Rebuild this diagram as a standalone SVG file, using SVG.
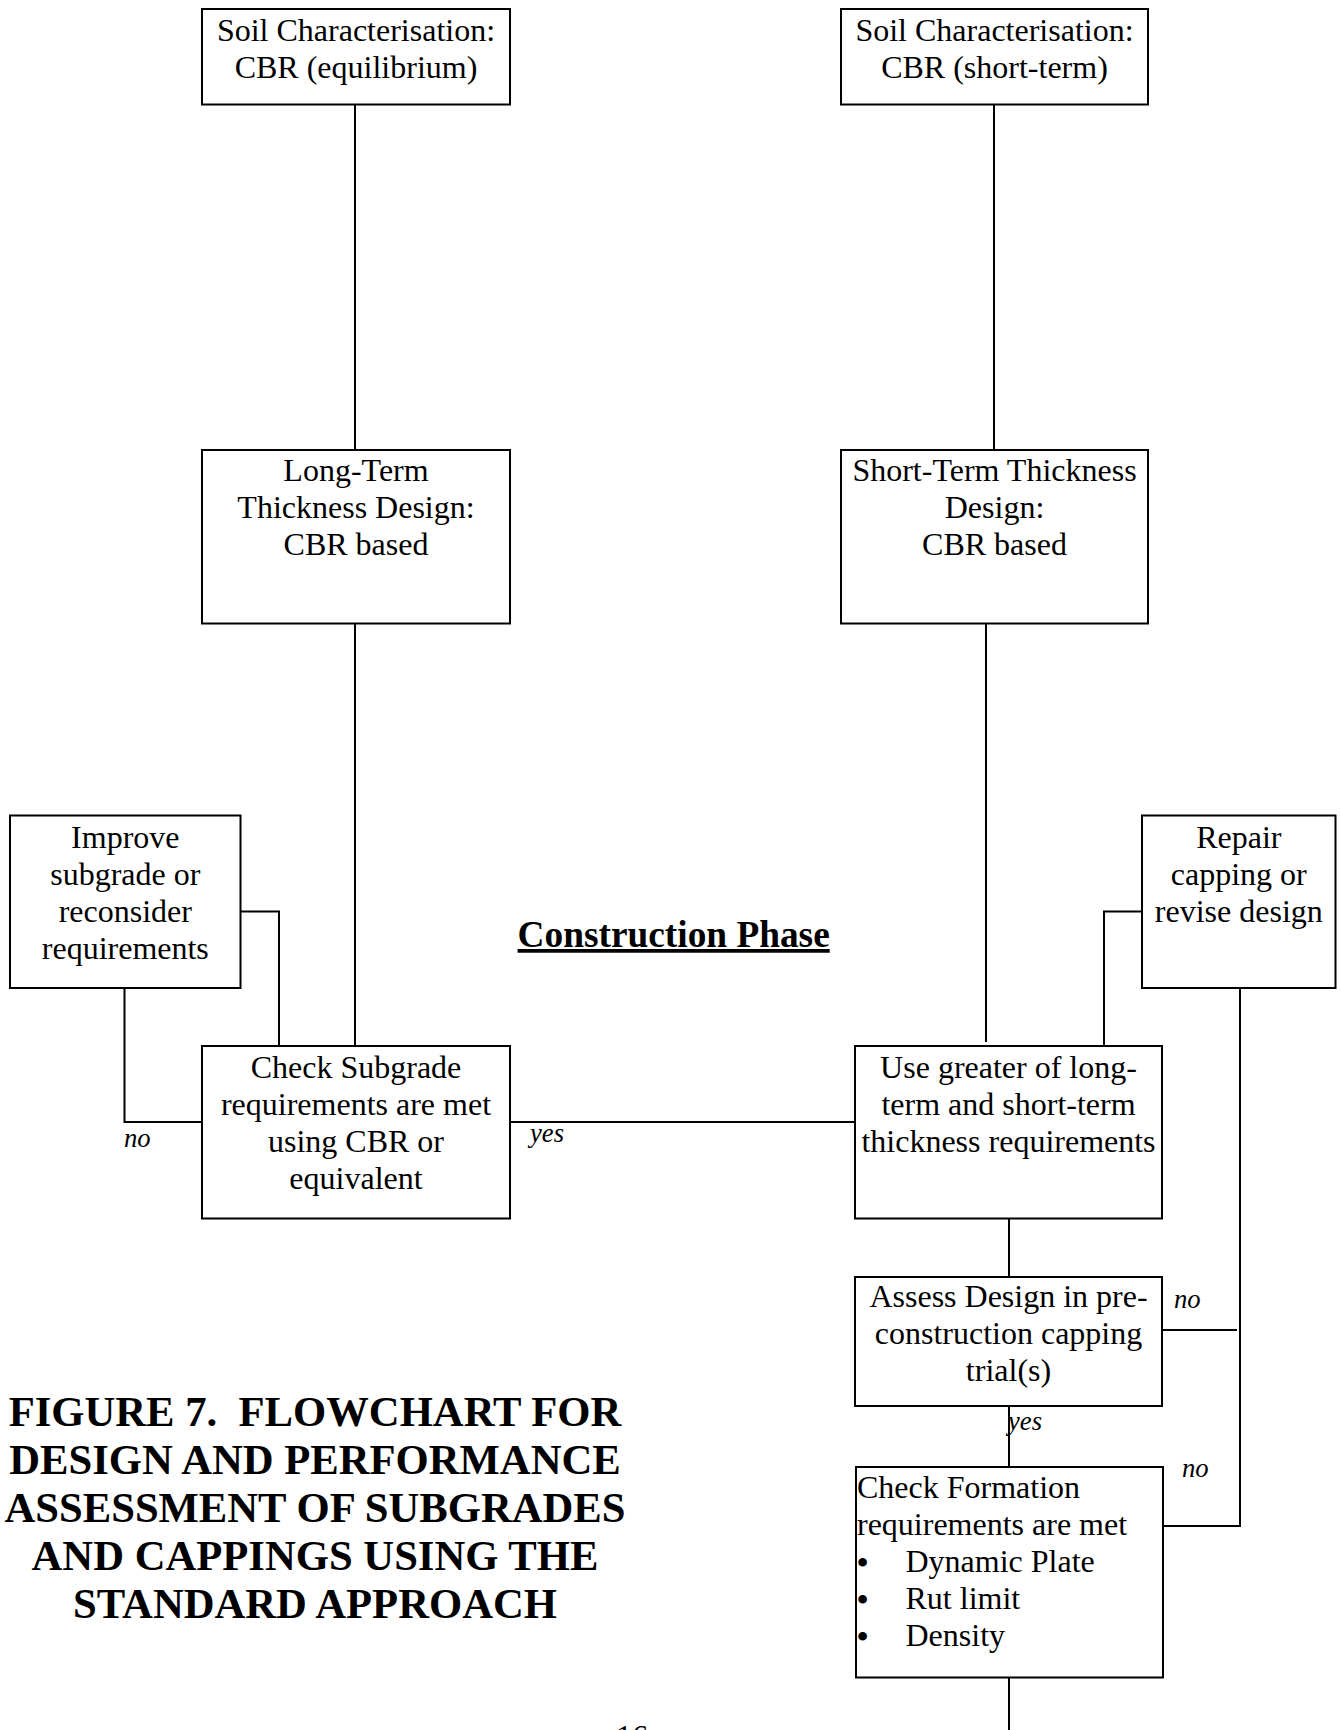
<svg xmlns="http://www.w3.org/2000/svg" width="1341" height="1730" viewBox="0 0 1341 1730">
<style>
.box{fill:#fff;stroke:#000;stroke-width:2}
.ln{fill:none;stroke:#000;stroke-width:2}
text{font-family:"Liberation Serif","Times New Roman",serif;fill:#000}
.t{font-size:32px;text-anchor:middle}
.tl{font-size:32px;text-anchor:start}
.bul{font-size:32px;text-anchor:middle;font-weight:bold}
.lab{font-size:26.67px;font-style:italic}
.ttl{font-size:42.67px;font-weight:bold;text-anchor:middle;white-space:pre}
.ph{font-size:37.33px;font-weight:bold;text-decoration:underline}
</style>
<rect x="0" y="0" width="1341" height="1730" fill="#fff"/>
<g id="connectors">
<path class="ln" d="M355,105 V450"/>
<path class="ln" d="M994,105 V450"/>
<path class="ln" d="M355,624 V1046"/>
<path class="ln" d="M986,624 V1042"/>
<path class="ln" d="M241,911.5 H279 V1046"/>
<path class="ln" d="M124.5,988 V1122 H202"/>
<path class="ln" d="M510,1122 H855"/>
<path class="ln" d="M1142,911.5 H1104 V1046"/>
<path class="ln" d="M1240,988 V1526 H1163"/>
<path class="ln" d="M1009,1218.5 V1277"/>
<path class="ln" d="M1160,1330 H1237"/>
<path class="ln" d="M1009,1406 V1470"/>
<path class="ln" d="M1009,1677.5 V1730"/>
</g>
<g id="soil-equilibrium">
<rect class="box" x="202" y="9" width="308" height="95.5"/>
<text class="t" x="356" y="41">Soil Characterisation:</text>
<text class="t" x="356" y="77.5">CBR (equilibrium)</text>
</g>
<g id="soil-short-term">
<rect class="box" x="841" y="9" width="307" height="95.5"/>
<text class="t" x="994.5" y="41">Soil Characterisation:</text>
<text class="t" x="994.5" y="77.5">CBR (short-term)</text>
</g>
<g id="long-term-design">
<rect class="box" x="202" y="450" width="308" height="173.5"/>
<text class="t" x="356" y="481">Long-Term</text>
<text class="t" x="356" y="518">Thickness Design:</text>
<text class="t" x="356" y="555">CBR based</text>
</g>
<g id="short-term-design">
<rect class="box" x="841" y="450" width="307" height="173.5"/>
<text class="t" x="994.5" y="481">Short-Term Thickness</text>
<text class="t" x="994.5" y="518">Design:</text>
<text class="t" x="994.5" y="555">CBR based</text>
</g>
<g id="improve-subgrade">
<rect class="box" x="10" y="815.5" width="230.5" height="172.5"/>
<text class="t" x="125.3" y="847.5">Improve</text>
<text class="t" x="125.3" y="884.5">subgrade or</text>
<text class="t" x="125.3" y="921.5">reconsider</text>
<text class="t" x="125.3" y="958.5">requirements</text>
</g>
<g id="construction-phase">
<text class="ph" x="517.6" y="947">Construction Phase</text>
</g>
<g id="repair-capping">
<rect class="box" x="1142" y="815.5" width="193.5" height="172.5"/>
<text class="t" x="1238.8" y="847.5">Repair</text>
<text class="t" x="1238.8" y="884.5">capping or</text>
<text class="t" x="1238.8" y="921.5">revise design</text>
</g>
<g id="check-subgrade">
<rect class="box" x="202" y="1046" width="308" height="172.5"/>
<text class="t" x="356" y="1077.5">Check Subgrade</text>
<text class="t" x="356" y="1114.5">requirements are met</text>
<text class="t" x="356" y="1151.5">using CBR or</text>
<text class="t" x="356" y="1188.5">equivalent</text>
</g>
<g id="use-greater">
<rect class="box" x="855" y="1046" width="307" height="172.5"/>
<text class="t" x="1008.5" y="1077.5">Use greater of long-</text>
<text class="t" x="1008.5" y="1114.5">term and short-term</text>
<text class="t" x="1008.5" y="1151.5">thickness requirements</text>
</g>
<g id="assess-design">
<rect class="box" x="855" y="1277" width="307" height="129"/>
<text class="t" x="1008.5" y="1307">Assess Design in pre-</text>
<text class="t" x="1008.5" y="1344">construction capping</text>
<text class="t" x="1008.5" y="1381">trial(s)</text>
</g>
<g id="check-formation">
<rect class="box" x="856" y="1467" width="307" height="210.5"/>
<text class="tl" x="857" y="1498">Check Formation</text>
<text class="tl" x="857" y="1535">requirements are met</text>
<text class="bul" x="862.7" y="1573">•</text>
<text class="tl" x="905.5" y="1572">Dynamic Plate</text>
<text class="bul" x="862.7" y="1610">•</text>
<text class="tl" x="905.5" y="1609">Rut limit</text>
<text class="bul" x="862.7" y="1647">•</text>
<text class="tl" x="905.5" y="1646">Density</text>
</g>
<g id="labels">
<text class="lab" x="124" y="1147">no</text>
<text class="lab" x="530" y="1142">yes</text>
<text class="lab" x="1174" y="1308">no</text>
<text class="lab" x="1008" y="1430">yes</text>
<text class="lab" x="1182" y="1477">no</text>
</g>
<g id="title">
<text class="ttl" x="315" y="1426">FIGURE 7.  FLOWCHART FOR</text>
<text class="ttl" x="315" y="1474">DESIGN AND PERFORMANCE</text>
<text class="ttl" x="315" y="1522">ASSESSMENT OF SUBGRADES</text>
<text class="ttl" x="315" y="1570">AND CAPPINGS USING THE</text>
<text class="ttl" x="315" y="1618">STANDARD APPROACH</text>
</g>
<g id="page-number">
<text class="t" x="632" y="1747">16</text>
</g>
</svg>
